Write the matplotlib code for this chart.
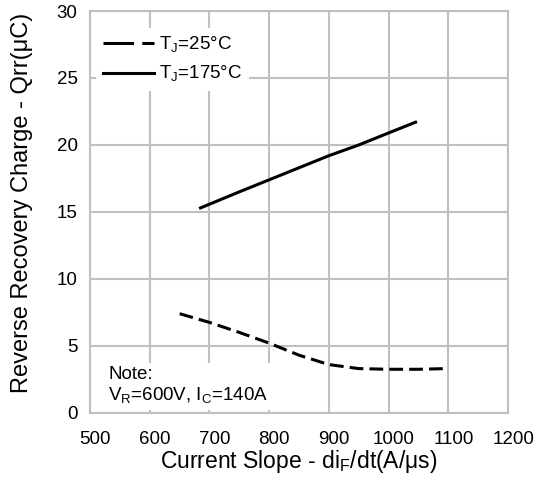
import numpy as np
import matplotlib.pyplot as plt
import matplotlib.transforms as mtransforms
from matplotlib.lines import Line2D

plt.rcParams['font.family'] = ['Liberation Sans', 'DejaVu Sans']

# Tj = 25C (dashed)
x25 = [650, 700, 750, 800, 850, 900, 950, 1000, 1050, 1095]
q25 = [7.4, 6.75, 6.0, 5.2, 4.3, 3.6, 3.3, 3.25, 3.25, 3.3]
# Tj = 175C (solid)
x175 = [685, 750, 800, 850, 900, 950, 1000, 1045]
q175 = [15.3, 16.5, 17.4, 18.3, 19.2, 20.0, 20.9, 21.7]

fig = plt.figure(figsize=(5.36, 4.8), dpi=100)
ax = fig.add_axes([0.168, 0.14, 0.78, 0.837])

ax.plot(x25, q25, color='black', lw=2.2, ls=(0, (4.5, 2.0)))
ax.plot(x175, q175, color='black', lw=2.2)

ax.set_xlim(500, 1200)
ax.set_ylim(0, 30)
ax.set_xticks(np.arange(500, 1201, 100))
ax.set_yticks(np.arange(0, 31, 5))
ax.grid(True, color='#c0c0c0', lw=1.5)
ax.set_axisbelow(True)
for s in ax.spines.values():
    s.set_color('#c0c0c0')
    s.set_linewidth(1.5)
ax.tick_params(length=0, labelsize=13.5)
ax.tick_params(axis='x', pad=13)
ax.tick_params(axis='y', pad=9)
# x tick labels sit a little right of the grid lines in the original
shift = mtransforms.ScaledTranslation(5 / 100, 0, fig.dpi_scale_trans)
for lbl in ax.get_xticklabels():
    lbl.set_transform(lbl.get_transform() + shift)

ax.set_xlabel('Current Slope - di$_\\mathregular{F}$/dt(A/μs)', fontsize=16.5, labelpad=0)
ax.set_ylabel('Reverse Recovery Charge - Qrr(μC)', fontsize=17)
ax.yaxis.set_label_coords(-0.137, 0.522)

handles = [Line2D([], [], color='black', lw=2.2, ls=(0, (10, 2.7))),
           Line2D([], [], color='black', lw=2.2)]
labels = ['T$_\\mathregular{J}$=25°C', 'T$_\\mathregular{J}$=175°C']
leg = ax.legend(handles, labels, loc='upper left', fontsize=13.5, frameon=True, fancybox=False,
                handlelength=2.75, handletextpad=0.25, borderpad=0.35, labelspacing=0.5,
                borderaxespad=0, bbox_to_anchor=(0.015, 0.958))
leg.get_frame().set_edgecolor('none')
leg.get_frame().set_facecolor('white')
leg.get_frame().set_alpha(1)

ax.text(0.043, 0.067, 'Note:\nV$_\\mathregular{R}$=600V, I$_\\mathregular{C}$=140A', transform=ax.transAxes,
        fontsize=13.5, va='center', ha='left', linespacing=1.2,
        bbox=dict(facecolor='white', edgecolor='none', pad=3))

fig.savefig('out.png', dpi=100)
